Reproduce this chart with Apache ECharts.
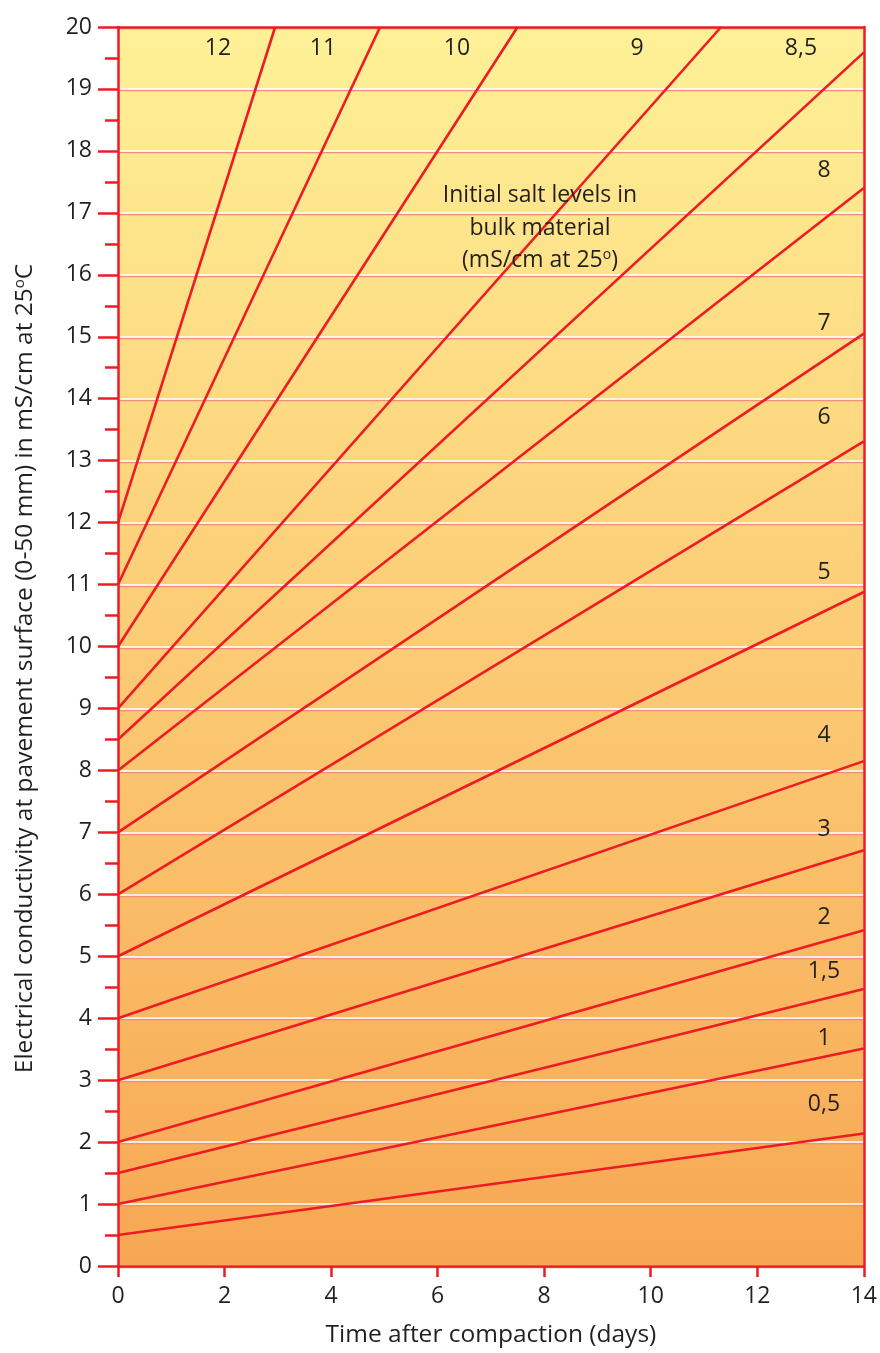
<!DOCTYPE html>
<html>
<head>
<meta charset="utf-8">
<script src="https://cdn.jsdelivr.net/npm/echarts@6/dist/echarts.min.js"></script>
<style>html,body{margin:0;padding:0;background:#fff;}#c{width:880px;height:1353px;}</style>
</head>
<body>
<div id="c"></div>
<script>
// Initial salt levels in bulk material (mS/cm at 25°)
const initialLevels = [0.5, 1, 1.5, 2, 3, 4, 5, 6, 7, 8, 8.5, 9, 10, 11, 12];
const lineLabels = ['0,5', '1', '1,5', '2', '3', '4', '5', '6', '7', '8', '8,5', '9', '10', '11', '12'];
// end point of each line (day, conductivity)
const endDays = [14, 14, 14, 14, 14, 14, 14, 14, 14, 14, 14, 11.32, 7.5, 4.92, 2.95];
const endValues = [2.14, 3.51, 4.47, 5.42, 6.71, 8.15, 10.88, 13.31, 15.05, 17.40, 19.59, 20, 20, 20, 20];
const xTicks = [0, 2, 4, 6, 8, 10, 12, 14];
const yTicks = [0, 1, 2, 3, 4, 5, 6, 7, 8, 9, 10, 11, 12, 13, 14, 15, 16, 17, 18, 19, 20];

const RED = '#ED1C24';
const TXT = '#231F20';
const FONT = '"Open Sans", "Noto Sans", sans-serif';
const FS = 23;
const FS_TITLE = 24.5;

const chart = echarts.init(document.getElementById('c'));

const series = initialLevels.map((v, i) => ({
  type: 'line',
  name: lineLabels[i],
  data: [[0, v], [endDays[i], endValues[i]]],
  showSymbol: false,
  symbol: 'none',
  silent: true,
  lineStyle: { color: RED, width: 2.6 },
  z: 5
}));

// label positions (pixels) for each line's text
const labelPos = {
  '12': [218, 48], '11': [323, 48], '10': [457, 48], '9': [637, 48], '8,5': [801, 48],
  '8': [824, 170], '7': [824, 323], '6': [824, 417], '5': [824, 572], '4': [824, 735],
  '3': [824, 829], '2': [824, 917], '1,5': [824, 971], '1': [824, 1038], '0,5': [824, 1104]
};
const graphics = lineLabels.map(l => ({
  type: 'text',
  x: labelPos[l][0], y: labelPos[l][1],
  z: 20,
  style: { text: l, fill: TXT, font: FS + 'px ' + FONT, align: 'center', verticalAlign: 'middle' }
}));
graphics.push({
  type: 'text', x: 540, y: 228, z: 20,
  style: {
    text: 'Initial salt levels in\nbulk material\n(mS/cm at 25{sup|o})',
    fill: TXT, font: FS + 'px ' + FONT, align: 'center', verticalAlign: 'middle',
    lineHeight: 32.5,
    textShadowColor: '#ffffff', textShadowOffsetX: 1.5, textShadowOffsetY: 1.5, textShadowBlur: 0,
    rich: { sup: { fontSize: 14, fontFamily: FONT, fill: TXT, padding: [0, 0, 11, 0], lineHeight: 32.5,
      textShadowColor: '#ffffff', textShadowOffsetX: 1.5, textShadowOffsetY: 1.5 } }
  }
});

chart.setOption({
  animation: false,
  backgroundColor: '#ffffff',
  grid: {
    left: 118, right: 14, top: 27, bottom: 87,
    show: true,
    borderWidth: 0,
    backgroundColor: new echarts.graphic.LinearGradient(0, 0, 0, 1, [
      { offset: 0, color: '#FEF197' },
      { offset: 0.5, color: '#FCCB75' },
      { offset: 1, color: '#F7A753' }
    ])
  },
  xAxis: [{
    type: 'value', min: 0, max: 14, interval: 2,
    name: 'Time after compaction (days)',
    nameLocation: 'middle', nameGap: 57,
    nameTextStyle: { fontSize: FS_TITLE, color: TXT, fontFamily: FONT },
    axisLine: { show: true, onZero: false, lineStyle: { color: RED, width: 2.5 } },
    axisTick: { show: true, length: 11, lineStyle: { color: RED, width: 2.5 } },
    axisLabel: { fontSize: FS, color: TXT, fontFamily: FONT, margin: 19,
      formatter: v => xTicks.includes(v) ? String(v) : '' },
    splitLine: { show: false },
    z: 3
  }, {
    type: 'value', min: 0, max: 14, position: 'top',
    axisLine: { show: true, onZero: false, lineStyle: { color: RED, width: 2.5 } },
    axisTick: { show: false }, axisLabel: { show: false }, splitLine: { show: false },
    z: 3
  }],
  yAxis: [{
    type: 'value', min: 0, max: 20, interval: 1,
    name: 'Electrical conductivity at pavement surface (0-50 mm) in mS/cm at 25{sup|o}C',
    nameLocation: 'middle', nameGap: 80, nameRotate: 90,
    nameTextStyle: { fontSize: FS_TITLE, color: TXT, fontFamily: FONT, padding: [0, 44, 0, 0],
      rich: { sup: { fontSize: 15, color: TXT, fontFamily: FONT, padding: [0, 0, 11, 0] } } },
    axisLine: { show: true, onZero: false, lineStyle: { color: RED, width: 2.5 } },
    axisTick: { show: true, length: 20, lineStyle: { color: RED, width: 2.5 } },
    minorTick: { show: true, splitNumber: 2, length: 13, lineStyle: { color: RED, width: 2.5 } },
    axisLabel: { fontSize: FS, color: TXT, fontFamily: FONT, margin: 26,
      formatter: v => yTicks.includes(v) ? String(v) : '' },
    splitLine: { show: true, lineStyle: { color: '#ffffff', width: 1.5,
      shadowColor: '#F28C7C', shadowOffsetY: 1.5, shadowBlur: 0 } },
    z: 1
  }, {
    type: 'value', min: 0, max: 20, position: 'right',
    axisLine: { show: true, onZero: false, lineStyle: { color: RED, width: 2.5 } },
    axisTick: { show: false }, axisLabel: { show: false }, splitLine: { show: false },
    z: 3
  }],
  series: series,
  graphic: graphics
});
</script>
</body>
</html>
